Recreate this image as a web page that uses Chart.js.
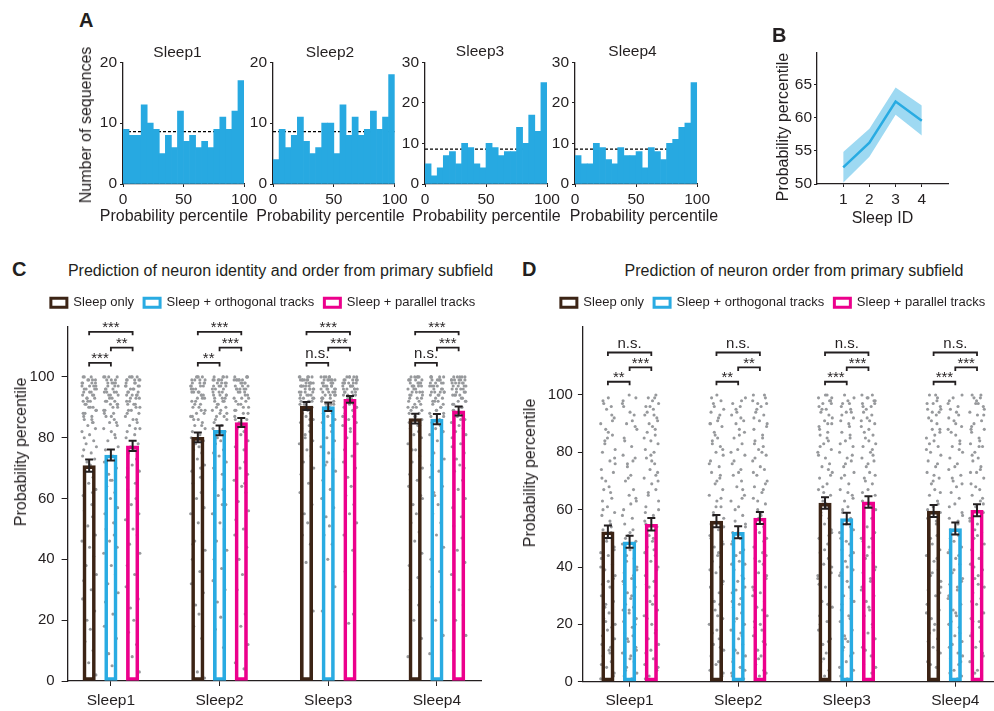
<!DOCTYPE html>
<html>
<head>
<meta charset="utf-8">
<script src="https://cdn.jsdelivr.net/npm/chart.js@4.4.1/dist/chart.umd.min.js"></script>
<style>
  body { margin: 0; width: 994px; height: 711px; overflow: hidden; background: #fff; position: relative;
         font-family: "Liberation Sans", Arial, Helvetica, sans-serif; }
  canvas { position: absolute; }
</style>
</head>
<body>
<canvas id="h1"></canvas><canvas id="h2"></canvas><canvas id="h3"></canvas><canvas id="h4"></canvas>
<canvas id="pb"></canvas>
<canvas id="pc"></canvas>
<canvas id="pd"></canvas>
<script>
// ---- panel A : histograms (20 bins of 5 percentile points)
const histBins = [0,5,10,15,20,25,30,35,40,45,50,55,60,65,70,75,80,85,90,95];
const histSleep1 = [9,8,8,13,10,9,5,8,6,12,7,8,6,7,6,9,11,9,12,17];
const histSleep2 = [4,9,6,8,11,7,5,6,10,10,5,13,8,11,8,9,12,9,11,18];
const histSleep3 = [5,2,4,7,8,5,10,9,5,4,10,9,7,8,8,14,10,17,13,25];
const histSleep4 = [7,5,5,10,9,6,5,9,7,7,8,4,9,8,6,10,11,14,15,25];
const histChance = 8.6;
const histXTicks = [0, 50, 100];

// ---- panel B
const sleepIds = [1, 2, 3, 4];
const bMean = [52.5, 56.2, 62.4, 59.5];
const bLow  = [50.2, 54.1, 60.4, 57.3];
const bHigh = [54.8, 58.3, 64.5, 61.8];
const bYTicks = [50, 55, 60, 65];

// ---- panels C / D
const groups = ['Sleep1', 'Sleep2', 'Sleep3', 'Sleep4'];
const seriesNames = ['Sleep only', 'Sleep + orthogonal tracks', 'Sleep + parallel tracks'];
const barYTicks = [0, 20, 40, 60, 80, 100];

const cOnly = [70.8, 80.1, 90.4, 86.3];
const cOrth = [74.3, 82.4, 90.2, 86.1];
const cPar  = [77.3, 85.0, 92.6, 88.8];
const cOnlyErr = [2.0, 1.6, 1.3, 1.6];
const cOrthErr = [1.8, 1.6, 1.4, 1.7];
const cParErr  = [1.7, 1.5, 1.1, 1.5];
// per group: [only vs parallel, orthogonal vs parallel, only vs orthogonal]
const cSig = [['***','**','***'], ['***','***','**'], ['***','***','n.s.'], ['***','***','n.s.']];

const dOnly = [52.3, 56.0, 62.3, 59.5];
const dOrth = [48.8, 52.1, 56.9, 53.4];
const dPar  = [54.9, 57.1, 62.7, 59.8];
const dOnlyErr = [2.2, 2.1, 2.0, 2.1];
const dOrthErr = [2.1, 2.1, 2.0, 2.1];
const dParErr  = [2.2, 2.1, 2.0, 2.1];
const dSig = [['n.s.','***','**'], ['n.s.','**','**'], ['n.s.','***','***'], ['n.s.','***','***']];

// individual sequences
const cOnlyDots = [
  [100,99,99,98,98,97,97,96,96,95,95,94,93,93,92,91,90,90,89,88,87,86,85,84,83,82,81,79,78,77,76,75,74,73,72,71,69,67,65,63,61,58,56,54,51,48,46,44,41,38,35,33,30,27,23,20,17,13,10,6,2,100,98,96,94,92,
   99,97,95,94,91,89,87,100,98,96,93,90,88,85,99,97,92,86,80,62],
  [100,100,99,99,98,98,97,97,96,95,95,94,93,93,92,91,90,89,88,88,87,86,85,84,83,82,81,80,79,78,77,76,75,73,71,69,67,65,62,60,57,55,52,49,46,43,40,36,32,29,25,22,18,14,3,1,99,97,96,94,
   100,98,97,95,93,91,89,87,99,96,94,92,90,86,84,100,98,95,70,45],
  [100,100,100,99,99,99,98,98,98,97,97,97,96,96,95,95,94,94,93,93,92,92,91,90,90,89,88,88,87,86,85,84,83,82,81,79,78,76,74,72,70,68,65,62,58,55,52,48,45,39,23,99,98,97,96,95,93,
   100,99,98,97,96,95,94,93,92,91,100,99,98,97,96,94,92,89,86,80],
  [100,100,100,99,99,98,98,98,97,97,96,96,95,95,94,93,93,92,91,90,90,89,88,87,86,85,84,83,82,81,80,78,76,74,72,70,68,66,64,61,58,55,52,49,46,42,38,34,30,25,20,14,8,99,98,97,95,94,
   100,99,98,97,95,94,92,91,89,88,100,99,97,96,93,90,87,84,76,60]
];
const cOrthDots = [
  [100,100,99,98,98,97,96,96,95,95,94,93,92,92,91,90,89,88,87,86,85,84,83,82,80,79,77,76,74,72,70,68,66,64,62,60,57,55,52,50,48,46,44,42,38,35,32,29,26,22,18,14,9,5,99,97,94,91,
   100,98,96,95,93,91,89,87,99,97,94,92,90,88,85,100,98,95,81,66],
  [100,100,99,99,98,98,97,96,96,95,94,94,93,92,92,91,90,89,88,87,87,86,85,84,83,82,80,79,78,76,74,72,70,68,66,63,61,58,55,52,50,46,43,40,37,33,30,26,21,17,11,99,98,97,95,93,
   100,99,97,96,94,92,90,88,99,98,95,93,91,89,86,100,97,94,75,58],
  [100,100,100,99,99,99,98,98,97,97,97,96,96,95,95,94,94,93,93,92,91,91,90,89,88,87,86,85,84,83,82,80,79,77,75,73,71,69,66,63,60,57,54,51,48,45,40,31,23,99,98,97,96,94,
   100,99,98,97,96,95,94,93,92,90,100,99,98,96,95,93,91,88,84,72],
  [100,100,100,99,99,98,98,97,97,96,96,95,95,94,94,93,92,92,91,90,89,88,87,86,85,84,83,82,81,79,77,75,73,71,69,67,64,61,58,55,52,48,44,40,36,31,26,20,15,9,99,98,97,95,
   100,99,98,96,95,94,92,90,89,87,100,99,97,95,93,91,88,85,78,62]
];
const cParDots = [
  [100,100,99,99,98,97,97,96,96,95,94,94,93,92,91,91,90,89,88,87,86,85,84,83,82,81,80,78,77,76,75,73,71,69,67,65,63,60,58,55,53,50,48,45,42,38,35,31,27,24,20,16,12,8,3,99,98,95,93,
   100,99,97,96,94,92,90,88,99,98,95,93,91,89,86,100,97,94,83,70],
  [100,100,99,99,99,98,98,97,97,96,96,95,95,94,93,93,92,91,90,89,88,87,86,85,84,83,82,81,79,77,76,74,72,70,68,66,64,62,59,56,53,50,48,44,40,35,30,22,18,12,6,4,99,98,96,
   100,99,98,96,95,93,92,90,89,100,99,97,96,94,91,88,86,82,78,65],
  [100,100,100,99,99,99,98,98,98,97,97,96,96,96,95,95,94,94,93,93,92,92,91,90,90,89,88,87,86,85,84,83,81,80,78,76,74,72,70,67,64,61,58,55,52,48,43,36,22,19,99,98,97,96,
   100,99,98,97,96,95,94,93,92,91,100,99,98,97,95,94,92,90,87,82],
  [100,100,100,99,99,99,98,98,97,97,96,96,95,95,94,94,93,92,92,91,90,89,88,87,86,85,84,83,82,81,80,78,77,75,73,71,69,66,63,60,57,54,51,47,43,39,35,30,25,20,15,10,99,98,97,96,
   100,99,98,97,95,94,93,91,90,88,100,99,98,96,94,92,89,86,80,70]
];
const dOnlyDots = [
  [98,96,95,92,90,87,86,83,81,80,77,74,73,70,68,67,64,61,59,58,55,53,52,49,47,45,44,41,39,37,34,33,30,28,27,24,22,19,18,15,13,12,9,7,5,3,1,99,91,84,76,63,56,43,36,21,11,
   97,93,85,78,71,66,60,54,50,46,40,35,31,26,20,16,10,6,2,88],
  [100,98,97,95,94,92,90,89,87,85,84,82,80,79,77,75,73,71,69,67,65,63,61,59,57,55,53,51,49,47,44,42,40,38,35,33,31,29,27,25,22,20,18,16,13,11,9,7,4,2,96,91,83,72,61,48,33,15,
   99,93,86,81,76,70,64,58,54,50,45,39,34,28,23,17,12,6,3,90],
  [100,99,98,97,95,94,93,91,90,89,87,86,84,83,81,80,78,76,75,73,71,69,67,65,63,61,59,57,55,52,50,48,45,43,41,38,36,33,31,28,26,23,21,18,15,13,10,7,4,2,99,96,90,82,74,66,53,37,
   100,98,95,92,88,85,79,72,68,62,58,51,46,40,34,27,20,14,8,97],
  [100,99,97,96,95,93,92,90,88,87,85,84,82,80,79,77,75,73,71,69,67,65,63,61,59,57,55,53,51,48,46,44,42,39,37,35,32,30,27,25,22,20,17,15,12,10,7,5,2,98,94,88,81,72,62,50,33,14,
   100,97,94,91,86,83,76,70,66,60,56,49,43,38,31,24,18,11,6,95]
];
const dOrthDots = [
  [99,97,94,93,90,88,85,82,79,78,75,72,70,67,65,63,60,57,55,53,51,49,48,46,43,42,40,38,36,35,33,31,29,27,26,24,22,21,19,17,16,14,12,10,8,7,5,3,2,1,98,89,76,62,50,37,25,11,
   96,91,84,77,71,64,58,52,47,44,39,34,30,25,20,15,9,4,1,100],
  [99,97,96,93,91,90,88,85,83,81,79,76,74,72,70,68,65,63,61,58,56,54,52,50,48,46,44,42,39,37,35,33,31,29,26,24,22,20,18,15,13,11,9,7,5,3,1,95,86,77,64,52,41,28,17,8,
   98,94,87,80,73,67,60,55,49,45,41,36,32,27,21,16,10,4,2,92],
  [100,98,97,95,94,92,91,89,87,86,84,82,80,78,77,75,73,71,69,67,65,63,61,59,57,55,53,50,48,46,44,42,39,37,35,32,30,28,25,23,21,18,16,14,11,9,7,4,2,97,93,85,76,64,52,40,29,12,
   99,96,90,83,79,72,66,60,54,49,45,38,33,27,22,15,10,5,1,94],
  [100,98,96,95,93,91,89,88,86,84,82,80,78,76,74,72,70,68,66,64,62,59,57,55,53,51,49,47,45,43,41,38,36,34,32,30,27,25,23,21,19,16,14,12,10,8,6,4,2,97,90,83,71,58,46,33,20,7,
   99,94,87,81,75,69,61,56,50,44,39,35,29,24,17,13,9,3,1,92]
];
const dParDots = [
  [100,99,97,96,95,93,92,90,89,87,86,84,83,81,80,78,76,74,73,71,69,67,65,63,61,58,56,54,51,49,47,44,42,40,37,35,32,30,28,25,23,20,18,15,13,10,8,6,4,2,98,94,88,79,70,59,46,34,
   99,96,91,85,77,72,66,60,55,50,45,39,33,27,22,17,11,5,1,93],
  [100,99,97,96,94,93,91,89,88,86,84,82,81,79,77,75,74,72,70,68,66,64,62,60,58,56,54,52,50,47,45,43,41,38,36,33,31,28,26,23,21,18,16,13,11,9,6,4,2,97,92,85,78,67,57,44,30,20,
   100,95,90,83,80,73,69,63,59,53,49,42,37,32,25,19,14,8,3,98],
  [100,99,98,97,96,94,93,92,90,89,88,86,85,83,82,80,78,77,75,73,71,69,67,65,63,61,59,57,54,52,50,47,45,43,40,38,35,33,30,28,25,23,20,17,15,12,9,6,3,99,97,91,84,79,70,60,49,36,
   100,98,95,91,87,81,76,72,66,62,55,50,44,39,32,26,19,11,5,96],
  [100,99,97,96,94,93,91,90,88,87,85,83,82,80,78,77,75,73,71,69,67,65,63,61,59,57,55,52,50,48,46,43,41,39,36,34,31,29,27,24,22,19,17,14,12,9,7,4,2,99,95,89,82,73,64,53,37,21,
   100,98,93,88,84,79,74,68,62,56,51,45,40,33,28,21,16,10,3,97]
];

// ---- styling / layout
const INK = '#231f20', HIST = '#27a9e1', BROWN = '#3c2415', CYAN = '#29abe2', PINK = '#ec008c', DOT = '#97999c';
const SERIES_COLORS = [BROWN, CYAN, PINK];
const OFF = [-0.2, 0, 0.2];
const JIT = [-0.045,0.031,-0.012,0.058,-0.066,0.004,0.042,-0.028,0.067,-0.05,0.019,-0.06,0.051,-0.02,0.011,-0.038,0.036,-0.004,0.062,-0.055,0.025];
const LEVELS = [114.8, 109.6, 104.6];

Chart.defaults.font.family = '"Liberation Sans", Arial, Helvetica, sans-serif';
Chart.defaults.color = INK;
Chart.defaults.animation = false;
Chart.defaults.plugins.tooltip.enabled = false;

function label(text, x, base, size, bold, center) {
  const d = document.createElement('div');
  d.textContent = text;
  d.style.cssText = 'position:absolute;white-space:nowrap;line-height:1;color:' + INK + ';font-size:' + size + 'px;' +
    'font-weight:' + (bold ? 'bold' : 'normal') + ';left:' + x + 'px;top:' + (base - 0.8465 * size) + 'px;' +
    (center ? 'transform:translateX(-50%);' : '');
  document.body.appendChild(d);
}
function vlabel(text, cx, cy, size) {
  const d = document.createElement('div');
  d.textContent = text;
  d.style.cssText = 'position:absolute;white-space:nowrap;line-height:1;color:' + INK + ';font-size:' + size + 'px;' +
    'left:' + cx + 'px;top:' + cy + 'px;transform:translate(-50%,-50%) rotate(-90deg);';
  document.body.appendChild(d);
}
function place(id, left, top, right, bottom) {
  const cv = document.getElementById(id);
  const W = Math.round(right - left), H = Math.round(bottom - top);
  cv.width = W; cv.height = H;
  cv.style.left = left + 'px'; cv.style.top = top + 'px';
  return { cv, left, top, W, H };
}
const axisLine = { color: INK, width: 1.3 };
function tickAt(vals) { return s => { s.ticks = vals.map(v => ({ value: v })); }; }

// ---- histograms
function hist(id, counts, yTicks, area) {
  const p = place(id, area.l - 32, area.t - 12, area.r + 16, area.b + 26);
  new Chart(p.cv, {
    type: 'bar',
    data: { datasets: [
      { type: 'bar', data: counts.map((c, i) => ({ x: histBins[i] + 2.5, y: c })), backgroundColor: HIST,
        borderWidth: 0, barPercentage: 1, categoryPercentage: 1, grouped: false },
      { type: 'line', data: [{ x: 0, y: histChance }, { x: 100, y: histChance }], borderColor: '#000',
        borderWidth: 1.2, borderDash: [3, 2], pointRadius: 0, fill: false }
    ] },
    options: {
      responsive: false,
      layout: { padding: { left: 0, top: 12, right: p.left + p.W - area.r, bottom: 0 } },
      plugins: { legend: { display: false } },
      scales: {
        x: { type: 'linear', min: 0, max: 100, offset: false, afterBuildTicks: tickAt(histXTicks),
          grid: { offset: false, drawOnChartArea: false, tickLength: 3, color: INK }, border: axisLine,
          ticks: { font: { size: 15.5 }, padding: 3, maxRotation: 0 },
          afterFit: s => { s.height = p.top + p.H - area.b; } },
        y: { min: 0, max: yTicks[yTicks.length - 1], afterBuildTicks: tickAt(yTicks),
          grid: { drawOnChartArea: false, tickLength: 3, color: INK }, border: axisLine,
          ticks: { font: { size: 15.5 }, padding: 3 },
          afterFit: s => { s.width = area.l - p.left; } }
      }
    }
  });
}
const hT = 61.7, hB = 183.7;
hist('h1', histSleep1, [0, 10, 20], { l: 123.3, r: 244.3, t: hT, b: hB });
hist('h2', histSleep2, [0, 10, 20], { l: 273.3, r: 395, t: hT, b: hB });
hist('h3', histSleep3, [0, 10, 20, 30], { l: 424.7, r: 546.7, t: hT, b: hB });
hist('h4', histSleep4, [0, 10, 20, 30], { l: 575.3, r: 697.7, t: hT, b: hB });

// ---- panel B
(function () {
  const area = { l: 817, r: 948, t: 53, b: 184 };
  const p = place('pb', area.l - 32, area.t - 12, area.r + 16, 227.6);
  const pts = arr => sleepIds.map((s, i) => ({ x: s, y: arr[i] }));
  new Chart(p.cv, {
    type: 'line',
    data: { datasets: [
      { data: pts(bHigh), borderWidth: 0, borderColor: 'rgba(0,0,0,0)', pointRadius: 0, fill: '+1', backgroundColor: 'rgba(41,171,226,0.45)' },
      { data: pts(bLow), borderWidth: 0, borderColor: 'rgba(0,0,0,0)', pointRadius: 0, fill: false },
      { data: pts(bMean), borderColor: CYAN, borderWidth: 2.5, pointRadius: 0, fill: false }
    ] },
    options: {
      responsive: false,
      layout: { padding: { left: 0, top: 12, right: p.left + p.W - area.r, bottom: 0 } },
      plugins: { legend: { display: false } },
      scales: {
        x: { type: 'linear', min: 0, max: 5, afterBuildTicks: tickAt(sleepIds),
          grid: { drawOnChartArea: false, tickLength: 3, color: INK }, border: axisLine,
          ticks: { font: { size: 15.5 }, padding: 3 },
          title: { display: true, text: 'Sleep ID', font: { size: 16 }, padding: 0 },
          afterFit: s => { s.height = p.top + p.H - area.b; } },
        y: { min: 50, max: 69.7, afterBuildTicks: tickAt(bYTicks),
          grid: { drawOnChartArea: false, tickLength: 3, color: INK }, border: axisLine,
          ticks: { font: { size: 15.5 }, padding: 2 },
          afterFit: s => { s.width = area.l - p.left; } }
      }
    }
  });
})();

// ---- panels C and D
function marks(means, errs, sig) {
  return {
    id: 'marks',
    afterDatasetsDraw(chart) {
      const ctx = chart.ctx, y = chart.scales.y;
      ctx.save();
      ctx.strokeStyle = INK; ctx.fillStyle = INK; ctx.lineWidth = 2;
      means.forEach((m, k) => {
        chart.getDatasetMeta(k).data.forEach((bar, g) => {
          const y1 = y.getPixelForValue(m[g] - errs[k][g]), y2 = y.getPixelForValue(m[g] + errs[k][g]);
          ctx.beginPath();
          ctx.moveTo(bar.x, y1); ctx.lineTo(bar.x, y2);
          ctx.moveTo(bar.x - 4, y1); ctx.lineTo(bar.x + 4, y1);
          ctx.moveTo(bar.x - 4, y2); ctx.lineTo(bar.x + 4, y2);
          ctx.stroke();
        });
      });
      ctx.lineWidth = 1.8; ctx.textAlign = 'center'; ctx.textBaseline = 'alphabetic';
      ctx.font = '15px "Liberation Sans", Arial, sans-serif';
      const pairs = [[0, 2], [1, 2], [0, 1]];
      sig.forEach((labels, g) => {
        const xs = [0, 1, 2].map(k => chart.getDatasetMeta(k).data[g].x);
        pairs.forEach(([a, b], j) => {
          const yy = y.getPixelForValue(LEVELS[j]);
          ctx.beginPath();
          ctx.moveTo(xs[a], yy + 3.5); ctx.lineTo(xs[a], yy); ctx.lineTo(xs[b], yy); ctx.lineTo(xs[b], yy + 3.5);
          ctx.stroke();
          const ns = labels[j] === 'n.s.';
          ctx.fillText(labels[j], (xs[a] + xs[b]) / 2, ns ? yy - 4.5 : yy + 0.5);
        });
      });
      ctx.restore();
    }
  };
}

function barPanel(id, geom, means, errs, dots, sig) {
  const { area, left, right, ymax, xmin, xmax } = geom;
  const p = place(id, left, 280, right, 711);
  const padTop = 6.2, legendH = 33;
  const pts = [];
  dots.forEach((series, k) => series.forEach((vals, g) => vals.forEach((v, i) => {
    pts.push({ x: g + 1 + OFF[k] + JIT[(i + 5 * g + 3 * k) % JIT.length], y: v });
  })));
  new Chart(p.cv, {
    type: 'bar',
    data: { datasets: [
      ...means.map((m, k) => ({
        type: 'bar', label: seriesNames[k], data: m.map((v, g) => ({ x: g + 1 + OFF[k], y: v })),
        backgroundColor: 'rgba(255,255,255,0)', borderColor: SERIES_COLORS[k], borderWidth: 3,
        borderSkipped: false, barThickness: 12.5, grouped: false, order: 1
      })),
      { type: 'scatter', label: 'dots', data: pts, pointRadius: 1.55, pointBackgroundColor: DOT,
        pointBorderWidth: 0, order: 2, clip: false }
    ] },
    options: {
      responsive: false,
      layout: { padding: { left: 0, top: padTop, right: 0, bottom: 0 } },
      plugins: {
        legend: { display: true, position: 'top',
          labels: { filter: it => it.datasetIndex < 3, boxWidth: 16, boxHeight: 9, padding: 10,
                    font: { size: 13 }, color: INK } }
      },
      scales: {
        x: { type: 'linear', min: xmin, max: xmax, offset: false, afterBuildTicks: tickAt(sleepIds),
          grid: { offset: false, drawOnChartArea: false, tickLength: 5, color: INK }, border: axisLine,
          ticks: { font: { size: 15.5 }, padding: 5, maxRotation: 0, autoSkip: false,
                   callback: v => groups[Math.round(v) - 1] },
          afterFit: s => { s.height = p.top + p.H - area.b; } },
        y: { min: 0, max: ymax, afterBuildTicks: tickAt(barYTicks),
          grid: { drawOnChartArea: false, tickLength: geom.tick, color: INK }, border: axisLine,
          ticks: { font: { size: 15 }, padding: geom.pad },
          afterFit: s => { s.width = area.l - p.left; } },
        xt: { type: 'linear', position: 'top', display: true, grid: { display: false }, border: { display: false },
          ticks: { display: false }, afterFit: s => { s.height = area.t - (p.top + padTop + legendH); } },
        yr: { type: 'linear', position: 'right', display: true, grid: { display: false }, border: { display: false },
          ticks: { display: false }, afterFit: s => { s.width = p.left + p.W - area.r; } }
      }
    },
    plugins: [marks(means, errs, sig)]
  });
}

barPanel('pc', { area: { l: 67.7, r: 482, t: 327, b: 681 }, left: 11.1, right: 514.9,
  ymax: 116.4, xmin: 0.6017, xmax: 4.414, tick: 6, pad: 7 },
  [cOnly, cOrth, cPar], [cOnlyErr, cOrthErr, cParErr], [cOnlyDots, cOrthDots, cParDots], cSig);
barPanel('pd', { area: { l: 583.3, r: 1000, t: 327, b: 681.7 }, left: 520.4, right: 1026.6,
  ymax: 123.7, xmin: 0.5698, xmax: 4.408, tick: 5, pad: 5 },
  [dOnly, dOrth, dPar], [dOnlyErr, dOrthErr, dParErr], [dOnlyDots, dOrthDots, dParDots], dSig);

// ---- text outside the plots
label('A', 79, 26.6, 20, true, false);
label('B', 772, 41.6, 20, true, false);
label('C', 12, 275.6, 20, true, false);
label('D', 522, 275.6, 20, true, false);
label('Sleep1', 177.5, 57, 15.5, false, true);
label('Sleep2', 330, 57, 15.5, false, true);
label('Sleep3', 480, 56.5, 15.5, false, true);
label('Sleep4', 632.5, 56.5, 15.5, false, true);
label('Probability percentile', 174, 222, 16, false, true);
label('Probability percentile', 330.5, 222, 16, false, true);
label('Probability percentile', 486.5, 222, 16, false, true);
label('Probability percentile', 644, 222, 16, false, true);
vlabel('Number of sequences', 86, 124.5, 16);
vlabel('Probability percentile', 783, 126.5, 16);
label('Prediction of neuron identity and order from primary subfield', 280.5, 276.5, 16, false, true);
label('Prediction of neuron order from primary subfield', 794, 276.5, 16, false, true);
vlabel('Probability percentile', 20.7, 452, 16);
vlabel('Probability percentile', 530, 473, 16);
</script>
</body>
</html>
